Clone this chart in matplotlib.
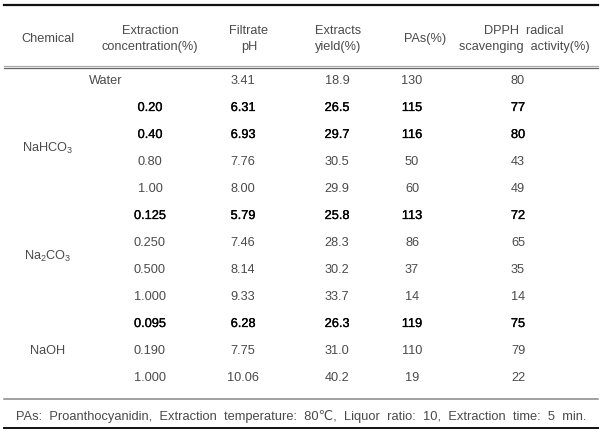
import matplotlib.pyplot as plt
import matplotlib.patheffects as pe

plt.rcParams['font.family'] = ['Liberation Sans', 'DejaVu Sans']
plt.rcParams['mathtext.fontset'] = 'custom'
plt.rcParams['mathtext.rm'] = 'Liberation Sans'

# table data
headers = [['Chemical'], ['Extraction', 'concentration(%)'], ['Filtrate', 'pH'],
           ['Extracts', 'yield(%)'], ['PAs(%)'], ['DPPH  radical', 'scavenging  activity(%)']]
chemicals = ['Water', r'NaHCO$_3$', r'Na$_2$CO$_3$', 'NaOH']
group_rows = [[0], [1, 2, 3, 4], [5, 6, 7, 8], [9, 10, 11]]
conc = ['', '0.20', '0.40', '0.80', '1.00', '0.125', '0.250', '0.500', '1.000', '0.095', '0.190', '1.000']
ph = ['3.41', '6.31', '6.93', '7.76', '8.00', '5.79', '7.46', '8.14', '9.33', '6.28', '7.75', '10.06']
yld = ['18.9', '26.5', '29.7', '30.5', '29.9', '25.8', '28.3', '30.2', '33.7', '26.3', '31.0', '40.2']
pas = ['130', '115', '116', '50', '60', '113', '86', '37', '14', '119', '110', '19']
dpph = ['80', '77', '80', '43', '49', '72', '65', '35', '14', '75', '79', '22']
bold_rows = [1, 2, 5, 9]
footnote = 'PAs:  Proanthocyanidin,  Extraction  temperature:  80\u2103,  Liquor  ratio:  10,  Extraction  time:  5  min.'

fig = plt.figure(figsize=(6.02, 4.36), dpi=100)
ax = fig.add_axes([0, 0, 1, 1])
ax.set_xlim(0, 602)
ax.set_ylim(436, 0)
ax.axis('off')

fs = 9.2
grey = '#4a4a4a'

# rules
ax.plot([4, 598], [5, 5], color='#111111', lw=1.6)
ax.plot([4, 598], [66, 66], color='#aaaaaa', lw=0.9)
ax.plot([4, 598], [68.2, 68.2], color='#666666', lw=0.9)
ax.plot([4, 598], [399, 399], color='#888888', lw=1.1)
ax.plot([4, 598], [428, 428], color='#111111', lw=1.4)

# header
head_x = [48, 150, 249, 338, 425, 524]
for x, h in zip(head_x, headers):
    ax.text(x, 39, '\n'.join(h), ha='center', va='center', fontsize=fs,
            color=grey, linespacing=1.45)

row_y = [81 + 27.0 * i for i in range(12)]
col_x = [150, 243, 337, 412, 518]

for i, y in enumerate(row_y):
    vals = [conc[i], ph[i], yld[i], pas[i], dpph[i]]
    bold = i in bold_rows
    for x, v in zip(col_x, vals):
        t = ax.text(x, y, v, ha='center', va='center', fontsize=fs,
                    color='black' if bold else grey)
        if bold:
            t.set_path_effects([pe.withStroke(linewidth=0.2, foreground='black')])

for name, rows in zip(chemicals, group_rows):
    if name == 'Water':
        ax.text(106, row_y[0], name, ha='center', va='center', fontsize=fs, color=grey)
    else:
        yc = (row_y[rows[0]] + row_y[rows[-1]]) / 2
        ax.text(48, yc, name, ha='center', va='center', fontsize=fs, color=grey)

ax.text(301, 416, footnote, ha='center', va='center', fontsize=fs + 0.05, color=grey)

fig.savefig('out.png', dpi=100)
